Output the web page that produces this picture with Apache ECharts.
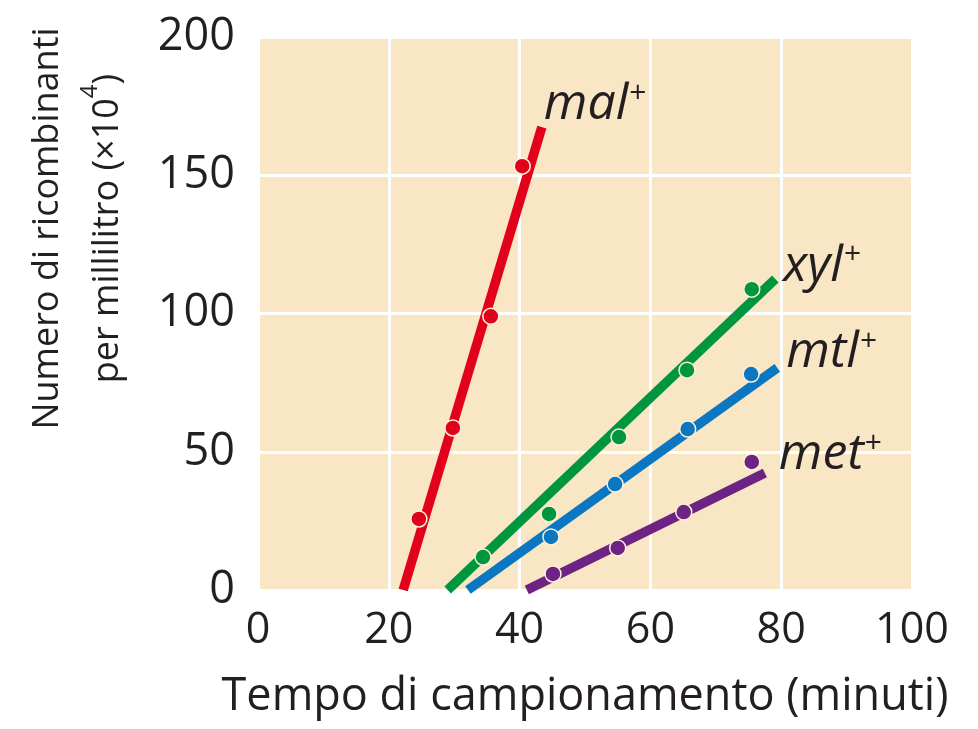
<!DOCTYPE html>
<html>
<head>
<meta charset="utf-8">
<script src="https://cdn.jsdelivr.net/npm/echarts@6/dist/echarts.min.js"></script>
<style>
  html, body { margin: 0; padding: 0; background: #ffffff; }
  #grafico-ricombinanti { width: 978px; height: 729px; }
</style>
</head>
<body>
<div id="grafico-ricombinanti"></div>
<script>
// Punti misurati (minuti, ricombinanti x10^4 per ml)
const malPunti = [[24.6, 25.7], [29.8, 58.6], [35.6, 99], [40.4, 153.3]];
const xylPunti = [[34.4, 11.9], [44.5, 27.5], [55.2, 55.3], [65.6, 79.5], [75.5, 108.8]];
const mtlPunti = [[44.8, 19.2], [54.6, 38.3], [65.7, 58.2], [75.4, 78.1]];
const metPunti = [[45.1, 5.8], [55.0, 15.2], [65.1, 28.2], [75.5, 46.3]];

// Rette di regressione (inizio, fine)
const malRetta = [[22.2, 0], [43.4, 167.4]];
const xylRetta = [[29.0, 0], [79.1, 112.5]];
const mtlRetta = [[32.1, 0], [79.4, 80.3]];
const metRetta = [[41.1, 0], [77.5, 42.3]];

// Nomi dei geni
const geni = ['mal', 'xyl', 'mtl', 'met'];
const colori = ['#e2001a', '#009640', '#0a77c0', '#6c2383'];

const testoColore = '#231f20';
const font = '"Open Sans", sans-serif';

const Grafico = {
    chart: null,
    option: null,

    init: function() {
        const chartDom = document.getElementById('grafico-ricombinanti');
        this.chart = echarts.init(chartDom, null, { renderer: 'canvas' });

        const punti = [malPunti, xylPunti, mtlPunti, metPunti];
        const rette = [malRetta, xylRetta, mtlRetta, metRetta];
        // spostamento delle etichette rispetto alla fine della retta
        const spostamenti = [[2, -22], [8, -12], [9, -15], [14, -18]];

        const series = [];
        geni.forEach((gene, i) => {
            series.push({
                name: gene,
                type: 'line',
                data: rette[i],
                symbol: 'none',
                clip: true,
                z: 2,
                lineStyle: { color: colori[i], width: 9.5, cap: 'butt' },
                endLabel: {
                    show: true,
                    distance: 0,
                    offset: spostamenti[i],
                    formatter: '{g|' + gene + '}{p|+}',
                    rich: {
                        g: { fontFamily: font, fontStyle: 'italic', fontSize: 50, color: testoColore, lineHeight: 54 },
                        p: { fontFamily: font, fontSize: 30, color: testoColore, verticalAlign: 'top', lineHeight: 54, padding: [0, 0, 14, 1] }
                    }
                },
                emphasis: { disabled: true }
            });
            series.push({
                name: gene + '-punti',
                type: 'scatter',
                data: punti[i],
                symbolSize: 16,
                z: 3,
                itemStyle: { color: colori[i], borderColor: '#fdf1dc', borderWidth: 1.5, opacity: 1 },
                emphasis: { disabled: true }
            });
        });

        this.option = {
            animation: false,
            backgroundColor: '#ffffff',
            grid: {
                left: 258,
                right: 66,
                top: 37,
                bottom: 139,
                outerBoundsMode: 'none',
                containLabel: false,
                show: true,
                backgroundColor: '#f9e6c4',
                borderWidth: 0
            },
            xAxis: {
                type: 'value',
                min: 0,
                max: 100,
                interval: 20,
                name: 'Tempo di campionamento (minuti)',
                nameLocation: 'middle',
                nameGap: 85,
                nameTextStyle: { fontFamily: font, fontSize: 45, color: testoColore },
                axisLine: { show: false },
                axisTick: { show: false },
                axisLabel: { fontFamily: font, fontSize: 43, color: testoColore, margin: 19 },
                splitLine: { show: true, lineStyle: { color: '#ffffff', width: 3 } }
            },
            yAxis: {
                type: 'value',
                min: 0,
                max: 200,
                interval: 50,
                name: 'Numero di ricombinanti\n{a|per millilitro (×10}{s|4}{a|)}',
                nameLocation: 'middle',
                nameRotate: 90,
                nameGap: 120,
                nameTextStyle: {
                    fontFamily: font, fontSize: 36, color: testoColore, lineHeight: 60,
                    padding: [0, 0, 0, 170],
                    rich: {
                        a: { fontFamily: font, fontSize: 36, color: testoColore, lineHeight: 60 },
                        s: { fontFamily: font, fontSize: 24, color: testoColore, verticalAlign: 'top', lineHeight: 60, padding: [0, 0, 4, 0] }
                    }
                },
                axisLine: { show: false },
                axisTick: { show: false },
                axisLabel: { fontFamily: font, fontSize: 45, color: testoColore, margin: 23 },
                splitLine: { show: true, lineStyle: { color: '#ffffff', width: 3 } }
            },
            series: series
        };

        this.chart.setOption(this.option);
        window.addEventListener('resize', this.chart.resize);
    }
};

Grafico.init();
</script>
</body>
</html>
